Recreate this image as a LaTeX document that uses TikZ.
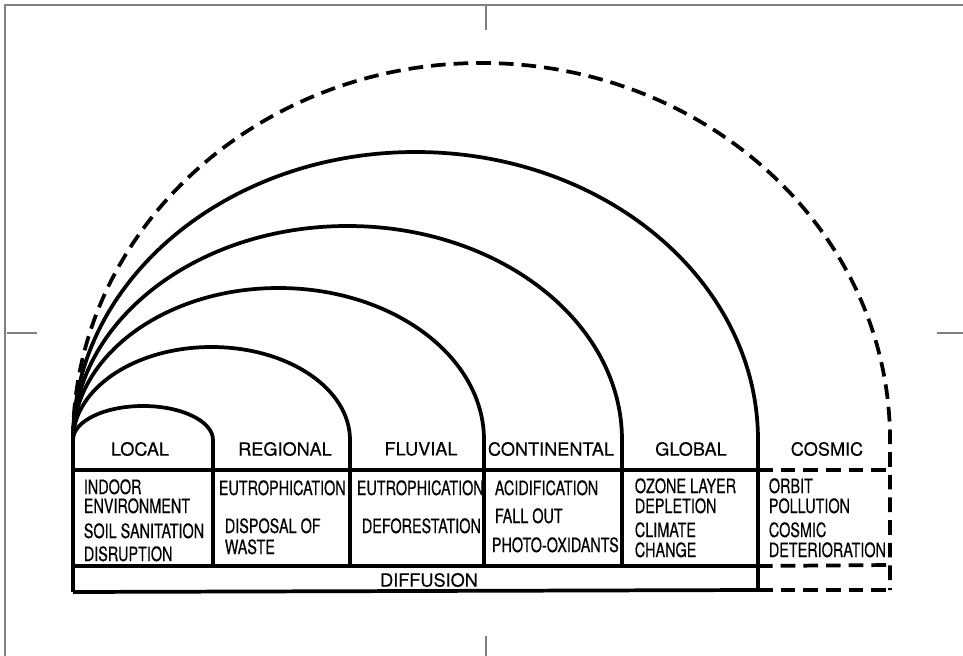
\documentclass[tikz,border=0pt]{standalone}
\usepackage{fontspec}
\setmainfont{TeX Gyre Heros}
\newfontfamily\narrowfont[FakeStretch=0.73,FakeBold=0.4]{TeX Gyre Heros}
\newfontfamily\headfont[FakeBold=0.3]{TeX Gyre Heros}
\usetikzlibrary{calc}

\begin{document}
\begin{tikzpicture}[x=0.75pt,y=-0.75pt,line width=2.8pt,line join=round,
    head/.style={font=\headfont\fontsize{13.6}{15}\selectfont,inner sep=0pt},
    item/.style={font=\narrowfont\fontsize{14.8}{15}\selectfont,anchor=base west,inner sep=0pt},
    spacedash/.style={dash pattern=on 11pt off 6pt},
    crop/.style={draw=gray,line width=1.4pt}]
    \useasboundingbox (0,0) rectangle (963,656);
    % page frame and crop marks
    \draw[crop] (5,656) -- (5,5) -- (963,5);
    \draw[crop] (486,5) -- (486,30);
    \draw[crop] (7,333) -- (37,333);
    \draw[crop] (937,333) -- (963,333);
    \draw[crop] (486,636) -- (486,656);
    % corner points of the table
    \coordinate (O) at (73,440);
    \coordinate (HL) at (73,470);
    \coordinate (HR) at (758,470);
    \coordinate (CL) at (73,566);
    \coordinate (CR) at (758,566);
    \coordinate (DL) at (73,592);
    \coordinate (DR) at (758,590);
    \coordinate (XH) at (890,470);
    \coordinate (XC) at (890,565);
    \coordinate (XD) at (890,590);
    % arcs
    \foreach \xr/\top/\bot in {213/406/566,350/347/566,484/288/566,622/226/566,758/152/590}
        \draw (O) arc[start angle=180,end angle=360,x radius={(\xr-73)/2},y radius={440-\top}] -- (\xr,\bot);
    \draw[spacedash] (O) arc[start angle=180,end angle=360,x radius=408.5,y radius=377] -- (XD);
    % rows
    \draw (O) -- (DL);
    \draw (HL) -- (HR);
    \draw (CL) -- (CR);
    \draw (DL) -- (DR);
    \begin{scope}[spacedash]
        \draw (HR) -- (XH);
        \draw (CR) -- (XC);
        \draw (DR) -- (XD);
    \end{scope}
    % headings
    \node[head] (local) at (140,449) {LOCAL};
    \node[head] (regional) at (285,449) {REGIONAL};
    \node[head] (fluvial) at (421,449) {FLUVIAL};
    \node[head] (continental) at (551,449) {CONTINENTAL};
    \node[head] (global) at (691,449) {GLOBAL};
    \node[head] (cosmic) at (827,449) {COSMIC};
    \node[head] (diffusion) at (429,580) {DIFFUSION};
    % items
    \node[item] (indoor) at (82,494) {INDOOR};
    \node[item] (environment) at (82,513) {ENVIRONMENT};
    \node[item] (soil) at (82,538) {SOIL SANITATION};
    \node[item] (disruption) at (82,561) {DISRUPTION};
    \node[item] (eutroreg) at (217,495) {EUTROPHICATION};
    \node[item] (disposal) at (223,533) {DISPOSAL OF};
    \node[item] (waste) at (223,554) {WASTE};
    \node[item] (eutrofluv) at (355,495) {EUTROPHICATION};
    \node[item] (deforest) at (360,533) {DEFORESTATION};
    \node[item] (acid) at (493,495) {ACIDIFICATION};
    \node[item] (fallout) at (493,523) {FALL OUT};
    \node[item] (photo) at (490,552) {PHOTO-OXIDANTS};
    \node[item] (ozone) at (633,493) {OZONE LAYER};
    \node[item] (depletion) at (633,513) {DEPLETION};
    \node[item] (climate) at (633,537) {CLIMATE};
    \node[item] (change) at (633,557) {CHANGE};
    \node[item] (orbit) at (767,493) {ORBIT};
    \node[item] (pollution) at (767,513) {POLLUTION};
    \node[item] (cosmicitem) at (767,537) {COSMIC};
    \node[item] (deterioration) at (767,557) {DETERIORATION};
\end{tikzpicture}
\end{document}
